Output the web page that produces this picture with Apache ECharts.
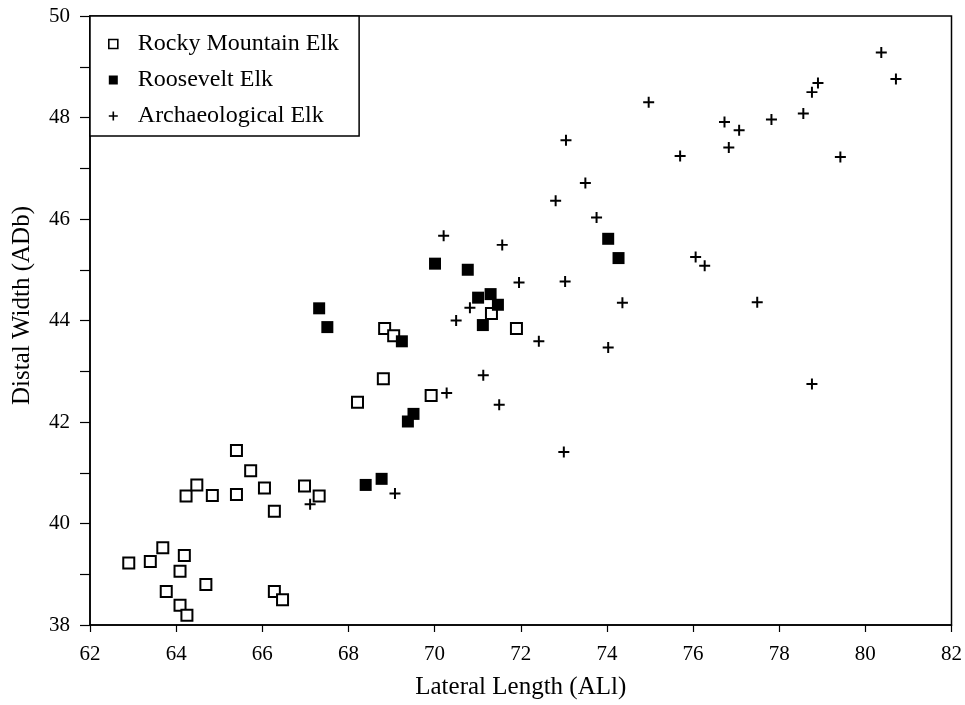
<!DOCTYPE html>
<html><head><meta charset="utf-8">
<script src="https://cdn.jsdelivr.net/npm/echarts@6/dist/echarts.min.js"></script>
<style>html,body{margin:0;padding:0;background:#fff;overflow:hidden;width:100%;height:100%}#c{position:absolute;left:0;top:0;width:965px;height:705px;overflow:hidden}</style>
</head><body><div id="c"></div>
<script>
var seriesNames = ['Rocky Mountain Elk', 'Roosevelt Elk', 'Archaeological Elk'];
var rockyX = [62.90,63.40,63.69,64.19,64.09,63.77,64.09,64.25,64.69,64.23,64.48,64.84,65.40,65.40,65.73,66.05,66.28,66.28,66.47,66.98,67.32,68.21,68.81,68.84,69.05,69.92,71.32,71.90];
var rockyY = [39.22,39.25,39.52,39.37,39.06,38.66,38.39,38.19,38.80,40.54,40.76,40.55,41.44,40.57,41.04,40.70,40.24,38.66,38.50,40.74,40.54,42.39,42.85,43.84,43.70,42.52,44.14,43.84];
var rooseX = [67.32,67.51,68.40,68.77,69.24,69.38,69.51,70.01,70.77,71.01,71.30,71.47,71.12,74.03,74.27];
var rooseY = [44.24,43.87,40.76,40.88,43.59,42.01,42.16,45.12,45.00,44.45,44.52,44.31,43.91,45.61,45.23];
var archX = [67.11,69.08,70.28,71.13,71.50,73.00,70.50,70.82,72.42,71.96,73.03,74.36,74.03,70.21,71.57,72.81,73.05,73.50,73.76,74.97,75.70,76.06,76.27,76.73,76.83,77.07,77.49,77.82,78.56,78.76,78.90,78.76,79.42,80.37,80.71];
var archY = [40.38,40.59,42.57,42.92,42.34,41.41,44.00,44.25,43.59,44.75,44.77,44.35,43.47,45.67,45.49,46.36,47.55,46.71,46.03,48.30,47.24,45.25,45.08,47.91,47.41,47.75,44.36,47.96,48.08,48.50,48.68,42.75,47.22,49.28,48.76];
var xTitle = 'Lateral Length (ALl)';
var yTitle = 'Distal Width (ADb)';

function pairs(xs, ys){ return xs.map(function(x,i){ return [x, ys[i]]; }); }
var FONT = '"Liberation Serif", "DejaVu Serif", serif';
var plus = 'path://M4.1,0H5.9V4.1H10V5.9H5.9V10H4.1V5.9H0V4.1H4.1Z';

var chart = echarts.init(document.getElementById('c'), null, {renderer:'canvas', width: 965, height: 705});
chart.setOption({
  animation: false,
  backgroundColor: '#fff',
  textStyle: {fontFamily: FONT, color:'#000'},
  grid: {left: 90, right: 8, top: 16, bottom: 77, show: true, borderColor: '#000', borderWidth: 1.5, backgroundColor: 'transparent'},
  legend: {
    left: 90, top: 16, orient: 'vertical',
    backgroundColor: '#fff', borderColor: '#000', borderWidth: 1.5, borderRadius: 0,
    padding: [16, 20, 8, 18], itemGap: 12, itemWidth: 9, itemHeight: 9,
    textStyle: {fontFamily: FONT, fontSize: 24, lineHeight: 24, color: '#000', padding:[0,0,0,15]},
    data: [
      {name: seriesNames[0], icon: 'rect', itemStyle:{color:'#fff', borderColor:'#000', borderWidth:1.6}},
      {name: seriesNames[1], icon: 'rect', itemStyle:{color:'#000'}},
      {name: seriesNames[2], icon: plus, itemStyle:{color:'#000'}}
    ]
  },
  xAxis: {
    type: 'value', min: 62, max: 82, interval: 2,
    name: xTitle, nameLocation: 'middle', nameGap: 50,
    nameTextStyle: {fontFamily: FONT, fontSize: 25, color:'#000'},
    axisLine: {show: true, lineStyle: {color:'#000', width: 1.5}},
    axisTick: {show: true, inside: false, length: 7, lineStyle:{color:'#000', width:1.2}},
    axisLabel: {fontFamily: FONT, fontSize: 21, color:'#000', margin: 19},
    splitLine: {show: false}
  },
  yAxis: {
    type: 'value', min: 38, max: 50, interval: 2,
    name: yTitle, nameLocation: 'middle', nameGap: 55,
    nameTextStyle: {fontFamily: FONT, fontSize: 25, color:'#000', padding:[0,0,0,30]},
    axisLine: {show: true, lineStyle: {color:'#000', width: 1.5}},
    axisTick: {show: true, inside: false, length: 10, lineStyle:{color:'#000', width:1.2}},
    minorTick: {show: true, splitNumber: 2, length: 10, lineStyle:{color:'#000', width:1.2}},
    axisLabel: {fontFamily: FONT, fontSize: 21, color:'#000', margin: 20},
    splitLine: {show: false}
  },
  series: [
    {name: seriesNames[0], type: 'scatter', data: pairs(rockyX, rockyY), symbol: 'rect', symbolSize: 11,
     itemStyle: {color:'#fff', borderColor:'#000', borderWidth: 2, opacity: 1}},
    {name: seriesNames[1], type: 'scatter', data: pairs(rooseX, rooseY), symbol: 'rect', symbolSize: 12,
     itemStyle: {color:'#000', opacity: 1}},
    {name: seriesNames[2], type: 'scatter', data: pairs(archX, archY), symbol: plus, symbolSize: 11,
     itemStyle: {color:'#000', opacity: 1}}
  ]
});
</script></body></html>
